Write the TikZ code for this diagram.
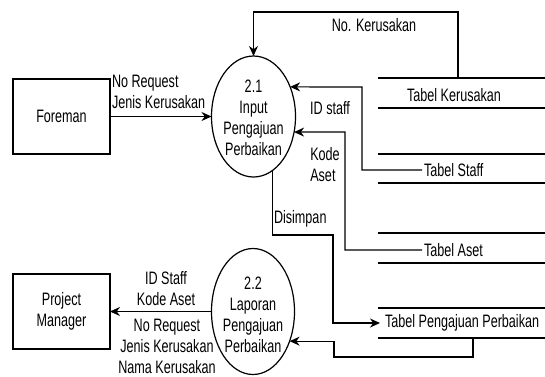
\documentclass[tikz,border=0pt]{standalone}
\usepackage{fontspec}
\setmainfont{Liberation Sans}[FakeStretch=0.7]
\usetikzlibrary{shapes.geometric,arrows.meta}
\begin{document}
\begin{tikzpicture}[x=1pt,y=-1pt, line width=1.2pt,
  every node/.style={font=\fontsize{18}{21}\selectfont, inner sep=0pt, outer sep=0pt},
  entity/.style={draw, minimum width=97pt, minimum height=75pt, align=center},
  proc/.style={draw, ellipse},
  flow/.style={-{Stealth[length=10pt,width=9pt]}},
  store/.style={line width=1.2pt},
  lbl/.style={align=center},
  lbll/.style={align=left}]
\useasboundingbox (0,0) rectangle (545,376);
% entities
\node[entity] (fore) at (61.5,116.5) {Foreman};
\node[entity] (pm) at (61.5,311.5) {Project\\Manager};
% processes
\node[proc, minimum width=84pt, minimum height=121pt] (c21) at (253.5,116.5) {};
\node[lbl] (t21) at (253.5,118) {2.1\\Input\\Pengajuan\\Perbaikan};
\node[proc, minimum width=83pt, minimum height=126pt] (c22) at (253,311.5) {};
\node[lbl] (t22) at (253,315) {2.2\\Laporan\\Pengajuan\\Perbaikan};
% data stores
\draw[store] (378,78) -- (545,78) (378,108) -- (545,108);
\node (tker) at (454,95) {Tabel Kerusakan};
\draw[store] (378,154) -- (545,154) (378,183) -- (545,183);
\node[anchor=west, inner xsep=2pt] (tstaff) at (422,170) {Tabel Staff};
\draw[store] (378,233) -- (545,233) (378,263) -- (545,263);
\node[anchor=west, inner xsep=2pt] (taset) at (422,250) {Tabel Aset};
\draw[store] (378,308) -- (545,308) (378,338) -- (545,338);
\node[anchor=west, inner xsep=2pt] (tpp) at (383,323) {Tabel Pengajuan Perbaikan};
% coordinates
\coordinate (kt) at (458,78);
\coordinate (ktop) at (253.5,12);
\coordinate (s1) at (362,87);
\coordinate (a1) at (345,132);
\coordinate (d1) at (333,235);
\coordinate (pb) at (473,338);
\coordinate (r1) at (334,357);
% flows
\draw[flow] (fore.east) -- (c21.west);
\node[lbll, anchor=west] (lf) at (112,92) {\fontsize{18}{19}\selectfont No Request\\Jenis Kerusakan};
\draw[flow] (kt) |- (ktop) -- (c21.north);
\node (lk) at (374,25) {No. Kerusakan};
\draw[flow] (tstaff.west) -| (s1) -- (c21.39);
\node (ls) at (330,108) {ID staff};
\draw[flow] (taset.west) -| (a1) -- (c21.-21);
\node[lbll] (la) at (325,165) {Kode\\Aset};
\draw[flow, shorten >=3pt] (c21.-71) |- (d1) |- (tpp.west);
\node[anchor=west] (ld) at (274,219) {Disimpan};
\draw[flow] (pb) |- (r1) |- (c22.-39);
\draw[flow] (c22.west) -- (pm.east);
\node[lbl] (l1) at (166,289) {ID Staff\\Kode Aset};
\node[lbl] (l2) at (167,346) {No Request\\Jenis Kerusakan\\Nama Kerusakan};
\end{tikzpicture}
\end{document}
